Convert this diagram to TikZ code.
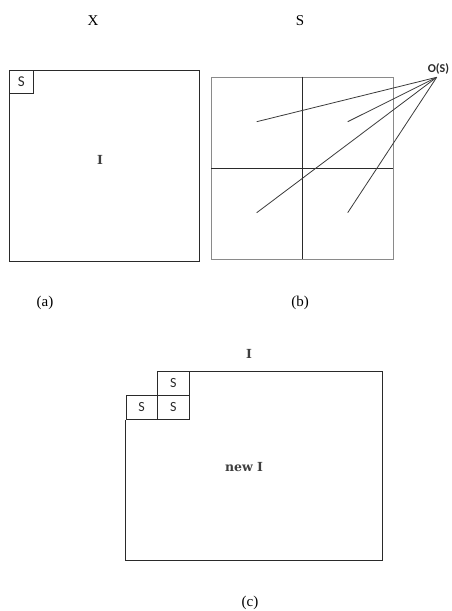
\documentclass[tikz,border=0pt]{standalone}
\usepackage{fontspec}
\setmainfont{Liberation Serif}
\newfontfamily\sfont{Carlito}
\newfontfamily\slab{DejaVu Serif}
\definecolor{ink}{HTML}{2A2A2A}
\definecolor{grid}{HTML}{8A8A8A}
\definecolor{ray}{HTML}{3A3A3A}
\begin{document}
\begin{tikzpicture}[x=1pt,y=-1pt,
  captxt/.style={font=\fontsize{15}{15}\selectfont, inner sep=0pt},
  box/.style={draw=ink, line width=0.9pt, inner sep=0pt, anchor=north west},
  sbox/.style={box, font=\sfont\fontsize{15}{15}\selectfont, text=ink},
  slabtxt/.style={font=\slab\bfseries\fontsize{12.5}{12.5}\selectfont, text=ink!90, inner sep=0pt},
  inner/.style={draw=ink, line width=0.9pt},
  rayline/.style={draw=ray, line width=0.8pt}]
\useasboundingbox (0,0) rectangle (451,611);
% titles
\node[captxt] (tx) at (93,21) {X};
\node[captxt] (ts) at (300,21) {S};
% (a)
\node[box, minimum width=190.5pt, minimum height=191.5pt] (boxA) at (8.5,69.5) {};
\node[sbox, minimum width=24.5pt, minimum height=23.5pt] (sA) at (8.5,69.5) {};
\node[font=\sfont\fontsize{15}{15}\selectfont, text=ink, inner sep=0pt] (sAt) at (sA.center) {S};
\node[slabtxt] (iA) at (100,160) {I};
% (b)
\node[draw=grid, line width=0.9pt, inner sep=0pt, anchor=north west, minimum width=181.5pt, minimum height=182pt] (grid) at (211,76.5) {};
\draw[inner] (grid.north) -- (grid.south);
\draw[inner] (grid.west) -- (grid.east);
\node[font=\sfont\bfseries\fontsize{12}{12}\selectfont, text=ink, inner sep=0pt] (os) at (438.5,68.5) {O(S)};
\coordinate (conv) at (436.7,77.3);
\coordinate (p1) at (256.7,121.7);
\coordinate (p2) at (347.7,121.7);
\coordinate (p3) at (256.7,212.7);
\coordinate (p4) at (347.7,212.7);
\draw[rayline] (conv) -- (p1);
\draw[rayline] (conv) -- (p2);
\draw[rayline] (conv) -- (p3);
\draw[rayline] (conv) -- (p4);
% sub labels
\node[captxt] (la) at (45,303) {(a)};
\node[captxt] (lb) at (300,303) {(b)};
% (c)
\node[slabtxt] (iC) at (249,354) {I};
\node[sbox, minimum width=32.6pt, minimum height=23.7pt] (s1) at (156.7,371) {};
\node[sbox, minimum width=32.6pt, minimum height=24pt] (s2) at (156.7,394.7) {};
\node[sbox, minimum width=31pt, minimum height=24pt] (s3) at (125.7,394.7) {};
\node[font=\sfont\fontsize{14}{14}\selectfont, text=ink, inner sep=0pt] (s1t) at (s1.center) {S};
\node[font=\sfont\fontsize{14}{14}\selectfont, text=ink, inner sep=0pt] (s2t) at (s2.center) {S};
\node[font=\sfont\fontsize{14}{14}\selectfont, text=ink, inner sep=0pt] (s3t) at (s3.center) {S};
\coordinate (cTR) at (382.7,371);
\coordinate (cBR) at (382.7,560.7);
\coordinate (cBL) at (125.7,560.7);
\draw[ink, line width=0.9pt] (s1.north east) -- (cTR) -- (cBR) -- (cBL) -- (s3.south west);
\node[slabtxt] (newI) at (244,467) {new I};
\node[captxt] (lc) at (250,603) {(c)};
\end{tikzpicture}
\end{document}
